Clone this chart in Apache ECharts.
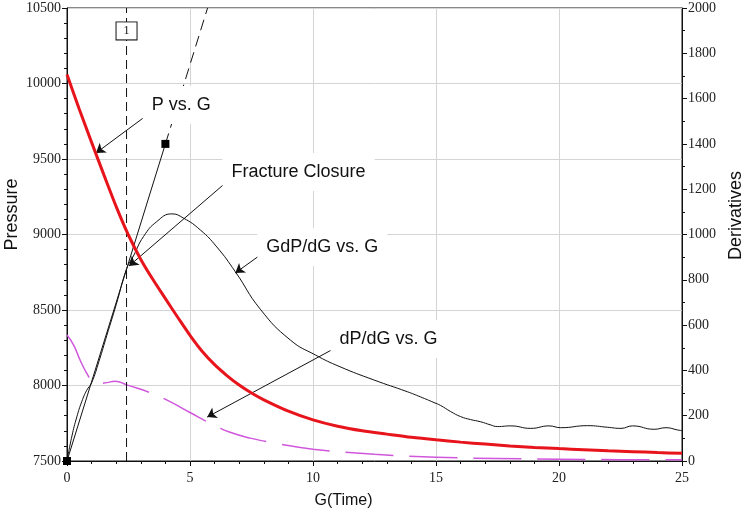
<!DOCTYPE html>
<html>
<head>
<meta charset="utf-8">
<script src="https://cdn.jsdelivr.net/npm/echarts/dist/echarts.min.js"></script>
<style>
  html, body { margin: 0; padding: 0; background: #fff; }
  #chart { width: 748px; height: 512px; }
</style>
</head>
<body>
<div id="chart"></div>
<script>
// G-function closure analysis: pressure, G*dP/dG and dP/dG against G(Time)

// Pressure (psi) vs G
const pG = [0, 0.5, 1, 1.5, 2, 2.5, 3, 3.5, 4, 4.5, 5, 5.5, 6, 6.5, 7, 7.5, 8, 9, 10, 11, 12, 13, 14, 15, 16, 17, 18, 19, 20, 21, 22, 23, 24, 25];
const pVals = [10060, 9830, 9610, 9395, 9185, 8995, 8835, 8700, 8575, 8452, 8332, 8225, 8138, 8066, 8003, 7950, 7905, 7830, 7772, 7730, 7700, 7678, 7657, 7640, 7625, 7612, 7600, 7590, 7582, 7575, 7568, 7562, 7556, 7551];

// Superposition derivative G*dP/dG vs G
const gdpG = [0, 0.2, 0.4, 0.6, 0.8, 1.0, 1.3, 1.62, 2.0, 2.43, 2.7, 3.11, 3.65, 4.26, 4.74, 5.42, 6.09, 6.84, 7.86, 9.08, 10.1, 11.1, 12.47, 13.83, 14.37, 14.92, 15.19, 15.6, 16.0, 16.4, 16.82, 17.2, 17.5, 18.04, 18.85, 19.6, 20.07, 21.16, 21.97, 22.52, 22.99, 23.87, 24.35, 24.82, 25];
const gdpVals = [0, 110, 195, 262, 312, 345, 440, 555, 690, 850, 905, 991, 1057, 1091, 1072, 1020, 945, 836, 670, 534, 468, 416, 358, 306, 283, 258, 245, 218, 196, 183, 173, 160, 152, 155, 144, 155, 147, 156, 149, 144, 155, 140, 147, 137, 134];

// Pressure derivative dP/dG vs G
const dpG = [0, 0.27, 0.53, 0.8, 1.0, 1.3, 1.62, 1.95, 2.43, 3.52, 4.19, 5.0, 5.96, 6.6, 7.45, 8.5, 10, 12.5, 15, 17.5, 20, 22.5, 25];
const dpVals = [556, 512, 446, 388, 358, 342, 346, 352, 336, 296, 262, 214, 159, 128, 101, 78, 52, 30, 17, 11, 8, 6, 5];

// Straight line through the origin tangent to G*dP/dG, and the closure point
const tangentG = [0, 4];
const tangentVals = [0, 1400];
const tangentSlope = 350;
const closureG = 2.42;
const closureTag = '1';

// Tick values
const xTicks = [0, 5, 10, 15, 20, 25];
const pTicks = [7500, 8000, 8500, 9000, 9500, 10000, 10500];
const dTicks = [0, 200, 400, 600, 800, 1000, 1200, 1400, 1600, 1800, 2000];

// Callout texts
const calloutNames = ['P vs. G', 'Fracture Closure', 'GdP/dG vs. G', 'dP/dG vs. G'];

const zip = (xs, ys) => xs.map((x, i) => [x, ys[i]]);

const serif = 'Liberation Serif';
const sans = 'Liberation Sans';
const dMax = dTicks[dTicks.length - 1];

// Callout anchor (text centre) and arrow geometry, in derivative-axis units
const calloutPos = [[4.64, 1572], [9.41, 1276], [10.38, 945], [13.07, 539]];
const arrows = [
  [[3.38, 1537], [1.18, 1360]],
  [[6.64, 1246], [2.52, 861]],
  [[7.98, 919], [6.84, 830]],
  [[10.99, 504], [5.70, 194]]
];

const chart = echarts.init(document.getElementById('chart'), null, { renderer: 'canvas' });

const axisLineStyle = { color: '#111', width: 1 };
const plain = v => String(v);

chart.setOption({
  animation: false,
  backgroundColor: '#fff',
  grid: {
    left: 67, right: 66, top: 8, bottom: 51, containLabel: false, outerBoundsMode: 'none',
    show: true, borderColor: '#111', borderWidth: 1, backgroundColor: 'transparent'
  },
  xAxis: {
    type: 'value', min: xTicks[0], max: xTicks[xTicks.length - 1], interval: 5,
    name: 'G(Time)', nameLocation: 'middle', nameGap: 32,
    nameTextStyle: { fontFamily: sans, fontSize: 16, color: '#111', padding: [0, 62, 0, 0] },
    axisLine: { lineStyle: axisLineStyle },
    axisTick: { inside: false, length: 5, lineStyle: axisLineStyle },
    minorTick: { show: true, splitNumber: 5, length: 3, lineStyle: axisLineStyle },
    axisLabel: { margin: 10, fontFamily: serif, fontSize: 14, color: '#222', formatter: plain },
    splitLine: { show: true, lineStyle: { color: '#d4d4d4', width: 1 } }
  },
  yAxis: [
    {
      type: 'value', position: 'left', min: pTicks[0], max: pTicks[pTicks.length - 1], interval: 500,
      name: 'Pressure', nameLocation: 'middle', nameGap: 46, nameMoveOverlap: false,
      nameTextStyle: { fontFamily: sans, fontSize: 18, color: '#111', padding: [0, 0, 0, 40] },
      axisLine: { show: true, lineStyle: axisLineStyle },
      axisTick: { show: true, inside: false, length: 5, lineStyle: axisLineStyle },
      minorTick: { show: true, splitNumber: 5, length: 3, lineStyle: axisLineStyle },
      axisLabel: { margin: 6, fontFamily: serif, fontSize: 14, color: '#222', formatter: plain },
      splitLine: { show: true, lineStyle: { color: '#d4d4d4', width: 1 } }
    },
    {
      type: 'value', position: 'right', min: dTicks[0], max: dMax, interval: 200,
      name: 'Derivatives', nameLocation: 'middle', nameGap: 45, nameMoveOverlap: false,
      nameTextStyle: { fontFamily: sans, fontSize: 18, color: '#111', padding: [0, 0, 0, 38] },
      axisLine: { show: true, lineStyle: axisLineStyle },
      axisTick: { show: true, inside: false, length: 5, lineStyle: axisLineStyle },
      minorTick: { show: true, splitNumber: 2, length: 3, lineStyle: axisLineStyle },
      axisLabel: { margin: 6, fontFamily: serif, fontSize: 14, color: '#222', formatter: plain },
      splitLine: { show: false }
    }
  ],
  series: [
    {
      name: 'GdP/dG vs. G', type: 'line', yAxisIndex: 1, smooth: 0.5, showSymbol: false,
      data: zip(gdpG, gdpVals),
      lineStyle: { color: '#111', width: 1 }, z: 3
    },
    {
      name: 'tangent', type: 'line', yAxisIndex: 1,
      data: zip(tangentG, tangentVals),
      symbol: 'rect', symbolSize: 8, showSymbol: true,
      itemStyle: { color: '#000' },
      lineStyle: { color: '#111', width: 1 }, z: 4
    },
    {
      name: 'tangent extension', type: 'line', yAxisIndex: 1, showSymbol: false,
      data: [[tangentG[1], tangentVals[1]], [dMax / tangentSlope, dMax]],
      lineStyle: { color: '#111', width: 1, type: [11, 6] }, z: 3
    },
    {
      name: 'dP/dG vs. G', type: 'line', yAxisIndex: 1, smooth: 0.5, showSymbol: false,
      data: zip(dpG, dpVals),
      lineStyle: { color: '#d057dc', width: 1.5, type: [48, 16] }, z: 2
    },
    {
      name: 'P vs. G', type: 'line', yAxisIndex: 0, smooth: 0.3, showSymbol: false,
      data: zip(pG, pVals),
      lineStyle: { color: '#e8141c', width: 3 }, z: 5
    },
    {
      name: 'closure', type: 'line', yAxisIndex: 0, showSymbol: false,
      data: [[closureG, pTicks[0]], [closureG, pTicks[pTicks.length - 1]]],
      lineStyle: { color: '#111', width: 1, type: [9, 5] }, z: 3
    },
    {
      name: 'callouts', type: 'scatter', yAxisIndex: 1, symbolSize: 1, silent: true,
      itemStyle: { color: 'rgba(0,0,0,0)', opacity: 1 },
      label: {
        show: true, position: 'inside', formatter: p => p.name,
        fontFamily: sans, fontSize: 18, color: '#111', textBorderWidth: 0,
        backgroundColor: '#fff', padding: [10, 9]
      },
      data: calloutNames.map((n, i) => ({ name: n, value: calloutPos[i] })).concat([{
        name: closureTag, value: [closureG, 1899],
        label: { fontFamily: serif, fontSize: 12, color: '#111', padding: [3, 7, 2, 7], borderColor: '#111', borderWidth: 1, backgroundColor: '#fff' }
      }]),
      z: 8
    },
    {
      name: 'arrows', type: 'line', yAxisIndex: 1, data: [], silent: true,
      markLine: {
        silent: true, animation: false,
        symbol: ['none', 'arrow'], symbolSize: 9,
        label: { show: false },
        lineStyle: { color: '#111', width: 1, type: 'solid' },
        itemStyle: { color: '#111' },
        emphasis: { disabled: true },
        data: arrows.map(a => [{ coord: a[0] }, { coord: a[1] }])
      },
      z: 9
    }
  ]
});
</script>
</body>
</html>
